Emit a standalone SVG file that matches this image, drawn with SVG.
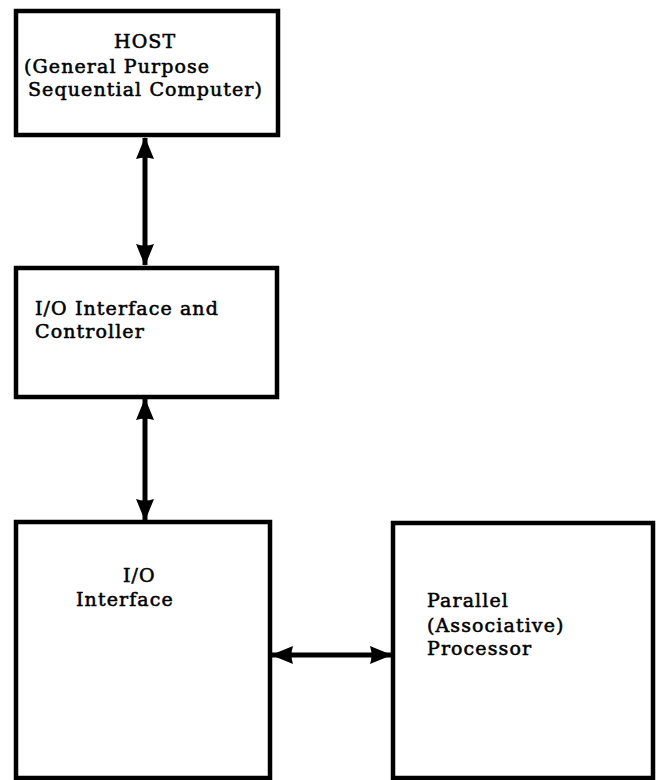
<svg xmlns="http://www.w3.org/2000/svg" width="660" height="780" viewBox="0 0 660 780">
  <style>
    .box { fill: #ffffff; stroke: #000000; stroke-width: 4.5; }
    .lbl { font-family: "DejaVu Serif", "Liberation Serif", serif; font-size: 19px; letter-spacing: 1.1px; fill: #000000; stroke: #000000; stroke-width: 0.55; }
    .link { stroke: #000000; stroke-width: 5; fill: none; marker-start: url(#head); marker-end: url(#head); }
  </style>
  <defs>
    <marker id="head" viewBox="0 0 22 20" refX="21" refY="10" markerWidth="22" markerHeight="20" markerUnits="userSpaceOnUse" orient="auto-start-reverse">
      <path d="M0,1 L22,10 L0,19 Q3,10 0,1 Z" fill="#000000"/>
    </marker>
  </defs>

  <rect width="660" height="780" fill="#ffffff"/>

  <!-- connectors -->
  <g id="connectors">
    <line class="link" x1="145" y1="138" x2="145" y2="265"/>
    <line class="link" x1="145" y1="399" x2="145" y2="520"/>
    <line class="link" x1="272" y1="655" x2="391" y2="655"/>
  </g>

  <g id="host">
    <rect class="box" x="16" y="11" width="262" height="124"/>
    <text class="lbl" x="114" y="48" letter-spacing="-1">HOST</text>
    <text class="lbl" x="24" y="73">(General Purpose</text>
    <text class="lbl" x="28" y="96">Sequential Computer)</text>
  </g>

  <g id="io-controller">
    <rect class="box" x="16" y="268" width="261" height="129"/>
    <text class="lbl" x="35" y="315">I/O Interface and</text>
    <text class="lbl" x="35" y="338">Controller</text>
  </g>

  <g id="io-interface">
    <rect class="box" x="16" y="522" width="254" height="256"/>
    <text class="lbl" x="123" y="582">I/O</text>
    <text class="lbl" x="76" y="606">Interface</text>
  </g>

  <g id="parallel-processor">
    <rect class="box" x="393" y="523" width="260" height="255"/>
    <text class="lbl" x="427" y="607">Parallel</text>
    <text class="lbl" x="427" y="632">(Associative)</text>
    <text class="lbl" x="427" y="655">Processor</text>
  </g>
</svg>
